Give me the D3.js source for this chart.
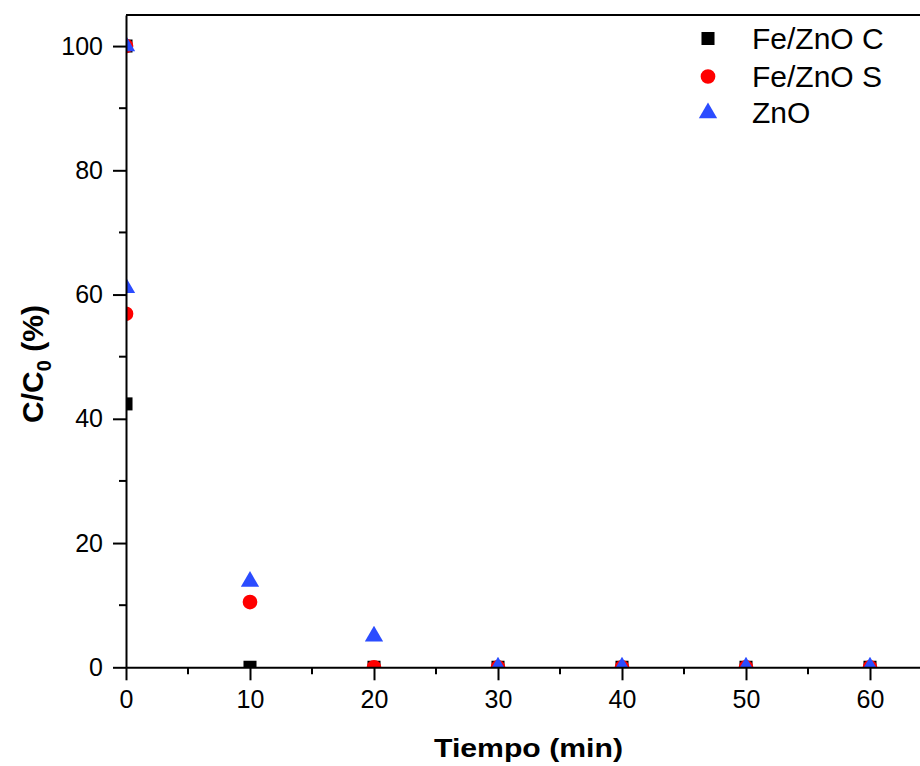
<!DOCTYPE html>
<html>
<head>
<meta charset="utf-8">
<script src="https://cdn.jsdelivr.net/npm/d3@7"></script>
<style>
  html, body { margin: 0; padding: 0; background: #ffffff; }
  svg { display: block; font-family: "Liberation Sans", Arial, sans-serif; }
</style>
</head>
<body>
<svg id="chart" width="920" height="766"></svg>
<script>
// Reaction time (min); the first two samples are both at t = 0
const tiempo = [0, 0, 10, 20, 30, 40, 50, 60];

// Relative concentration C/C0 (%) for each catalyst
const feZnOC = [100, 42.4, 0, 0, 0, 0, 0, 0];
const feZnOS = [100, 56.9, 10.5, 0, 0, 0, 0, 0];
const zno    = [100, 61.1, 13.8, 5.0, 0, 0, 0, 0];

const seriesNames = ["Fe/ZnO C", "Fe/ZnO S", "ZnO"];
const xTicks = [0, 10, 20, 30, 40, 50, 60];
const yTicks = [0, 20, 40, 60, 80, 100];

const series = [
  { name: seriesNames[0], values: feZnOC, symbol: d3.symbolSquare,   size: 170, color: "#000000" },
  { name: seriesNames[1], values: feZnOS, symbol: d3.symbolCircle,   size: 170, color: "#ff0000" },
  { name: seriesNames[2], values: zno,    symbol: d3.symbolTriangle, size: 145, color: "#2b4cff" }
];

const svg = d3.select("#chart");
const plotLeft = 126, plotTop = 15, plotBottom = 667.3;

const x = d3.scaleLinear().domain([0, 65]).range([plotLeft, plotLeft + 65 * 12.4]);
const y = d3.scaleLinear().domain([0, 105]).range([plotBottom, plotTop]);

// Clip markers to the plot frame
svg.append("defs").append("clipPath").attr("id", "plot-clip")
  .append("rect")
  .attr("x", x(0)).attr("y", y(105))
  .attr("width", x(65) - x(0)).attr("height", y(0) - y(105));

// Markers
const marks = svg.append("g").attr("clip-path", "url(#plot-clip)");
series.forEach(s => {
  marks.append("g").selectAll("path")
    .data(s.values.map((v, i) => ({ t: tiempo[i], v })))
    .join("path")
    .attr("transform", d => `translate(${x(d.t)},${y(d.v)})`)
    .attr("d", d3.symbol().type(s.symbol).size(s.size))
    .attr("fill", s.color);
});

// Axes
const axisStroke = g => {
  g.selectAll(".domain").attr("stroke", "#000").attr("stroke-width", 2);
  g.selectAll(".tick line").attr("stroke", "#000").attr("stroke-width", 2);
  g.selectAll(".tick text").attr("font-size", 25).attr("fill", "#000");
};

svg.append("g")
  .attr("transform", `translate(0,${y(0)})`)
  .call(d3.axisBottom(x).tickValues(xTicks).tickSize(13).tickSizeOuter(0).tickPadding(10)
    .tickFormat(d3.format("d")))
  .call(axisStroke);

// Minor x ticks
svg.append("g").selectAll("line")
  .data(d3.range(5, 65, 10))
  .join("line")
  .attr("x1", d => x(d)).attr("x2", d => x(d))
  .attr("y1", y(0)).attr("y2", y(0) + 7)
  .attr("stroke", "#000").attr("stroke-width", 2);

svg.append("g")
  .attr("transform", `translate(${x(0)},0)`)
  .call(d3.axisLeft(y).tickValues(yTicks).tickSize(13).tickSizeOuter(0).tickPadding(10)
    .tickFormat(d3.format("d")))
  .call(axisStroke);

// Minor y ticks
svg.append("g").selectAll("line")
  .data(d3.range(10, 105, 20))
  .join("line")
  .attr("x1", x(0) - 7).attr("x2", x(0))
  .attr("y1", d => y(d)).attr("y2", d => y(d))
  .attr("stroke", "#000").attr("stroke-width", 2);

// Top frame line
svg.append("line")
  .attr("x1", x(0)).attr("x2", x(65))
  .attr("y1", y(105)).attr("y2", y(105))
  .attr("stroke", "#000").attr("stroke-width", 2);

// Axis titles
svg.append("text")
  .attr("x", 434).attr("y", 757)
  .attr("font-size", 26).attr("font-weight", "bold")
  .attr("textLength", 189).attr("lengthAdjust", "spacingAndGlyphs")
  .text("Tiempo (min)");

const yTitle = svg.append("text")
  .attr("transform", `translate(43,364) rotate(-90)`)
  .attr("text-anchor", "middle")
  .attr("font-size", 30).attr("font-weight", "bold");
yTitle.append("tspan").text("C/C");
yTitle.append("tspan").attr("font-size", 20).attr("dy", 8).text("0");
yTitle.append("tspan").attr("dy", -8).text(" (%)");

// Legend
const legendRows = [38.5, 76.5, 113];
const legend = svg.append("g");
series.forEach((s, i) => {
  legend.append("path")
    .attr("transform", `translate(708,${legendRows[i]})`)
    .attr("d", d3.symbol().type(s.symbol).size(s.size))
    .attr("fill", s.color);
  legend.append("text")
    .attr("x", 752).attr("y", legendRows[i] + 10)
    .attr("font-size", 30)
    .attr("fill", "#000")
    .text(s.name);
});
</script>
</body>
</html>
